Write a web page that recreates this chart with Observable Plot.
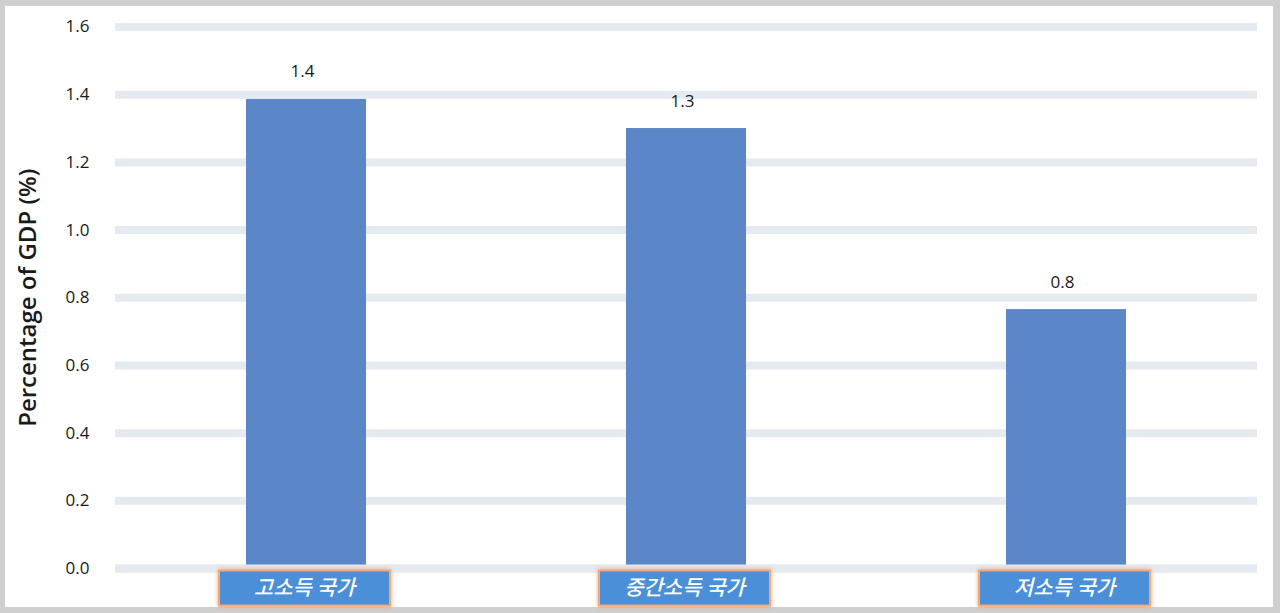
<!DOCTYPE html>
<html>
<head>
<meta charset="utf-8">
<script src="https://cdn.jsdelivr.net/npm/d3@7"></script>
<script src="https://cdn.jsdelivr.net/npm/@observablehq/plot@0.6"></script>
<style>
  html, body { margin: 0; padding: 0; }
  body { width: 1280px; height: 613px; background: #cfcfcf; position: relative; overflow: hidden; }
  #chart { position: absolute; left: 5px; top: 6px; width: 1268px; height: 601px; background: #ffffff; }
  #chart svg { display: block; }
  .boxes path { filter: drop-shadow(0 0 2px rgba(244,150,90,0.9)); }
</style>
</head>
<body>
<div id="chart"></div>
<script>
const categories = ["고소득 국가", "중간소득 국가", "저소득 국가"];
const values = [1.386, 1.30, 0.765];
const valueLabels = ["1.4", "1.3", "0.8"];
const yTicks = [0, 0.2, 0.4, 0.6, 0.8, 1.0, 1.2, 1.4, 1.6];
const yTitle = "Percentage of GDP (%)";

const data = categories.map((c, i) => ({cat: c, value: values[i], label: valueLabels[i]}));

const boxSymbol = {
  draw(context) {
    context.rect(-85.5, -17.5, 171, 35);
  }
};

const plot = Plot.plot({
  width: 1268,
  height: 601,
  marginLeft: 110,
  marginRight: 16,
  marginTop: 20.5,
  marginBottom: 39,
  style: {fontFamily: "'Open Sans', 'Noto Sans CJK KR', sans-serif", background: "#ffffff", overflow: "visible"},
  x: {domain: categories, padding: 0, axis: null},
  y: {domain: [0, 1.6], axis: null},
  marks: [
    Plot.ruleY(yTicks, {stroke: "#e5e9f0", strokeWidth: 8}),
    Plot.axisY({ticks: yTicks, tickSize: 0, tickPadding: 26, tickFormat: d => d.toFixed(1), fontSize: 17, fill: "#1a1a1a", label: null}),
    Plot.barY(data, {x: "cat", y: "value", fill: "#5b87c8", insetLeft: 130, insetRight: 130}),
    Plot.ruleY([0], {stroke: "#e5e9f0", strokeWidth: 8}),
    Plot.text(data, {x: "cat", y: "value", text: "label", lineAnchor: "bottom", dy: -22, dx: -4, fontSize: 17, fill: "#1a1a1a"}),
    Plot.dot(data, {x: "cat", frameAnchor: "bottom", dy: 19.5, dx: -2, symbol: boxSymbol, r: 1, fill: "#4a8fd8", stroke: "#f2a878", strokeWidth: 2, className: "boxes"}),
    Plot.text(data, {x: "cat", text: "cat", frameAnchor: "bottom", dy: 20, dx: -2, lineAnchor: "middle", fill: "#ffffff", fontSize: 21, fontStyle: "italic", fontWeight: 500, fontFamily: "'Noto Sans CJK KR', sans-serif"}),
    Plot.text([yTitle], {frameAnchor: "left", dx: -87, rotate: -90, textAnchor: "middle", text: d => d, fontSize: 24, fontWeight: 600, fill: "#1a1a1a"})
  ]
});

document.getElementById("chart").appendChild(plot);
</script>
</body>
</html>
